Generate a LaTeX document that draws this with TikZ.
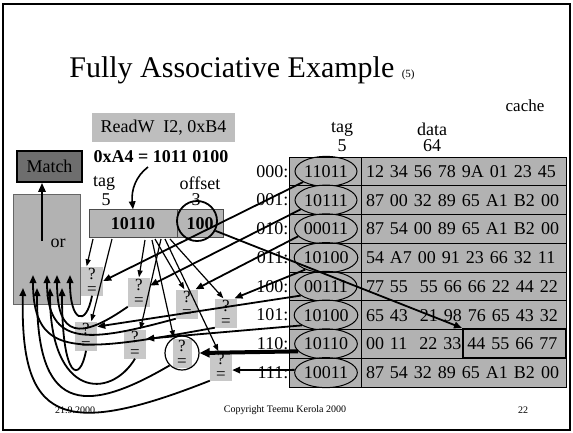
\documentclass[tikz,border=0pt]{standalone}
\usepackage{fontspec}
\setmainfont{Liberation Serif}
\usetikzlibrary{arrows.meta,shapes.geometric}
\newcommand\fsz[1]{\fontsize{#1}{#1}\selectfont}
\newcommand\qeq{?\\[-2pt]=}
\definecolor{tabgray}{RGB}{178,178,178}
\definecolor{cmpgray}{RGB}{200,200,200}
\definecolor{boxgray}{RGB}{182,182,182}
\definecolor{readgray}{RGB}{190,190,190}
\definecolor{matchgray}{RGB}{110,110,110}
\begin{document}
\begin{tikzpicture}[x=1pt,y=-1pt,
  txt/.style={font=\fsz{18}, inner sep=0pt},
  cmp/.style={fill=cmpgray, minimum width=22pt, minimum height=29pt, inner sep=0pt, font=\fsz{17}, align=center},
  tagel/.style={ellipse, draw, line width=1pt, minimum width=62pt, minimum height=30pt, inner sep=0pt, font=\fsz{18}},
  tcell/.style={draw, line width=0.8pt, fill=tabgray, minimum width=72pt, minimum height=28.75pt, inner sep=0pt},
  dcell/.style={draw, line width=0.8pt, fill=tabgray, text width=195pt, inner xsep=5pt, inner ysep=0pt, minimum height=28.75pt, align=left, font=\fsz{18}},
  conn/.style={line width=1.8pt, -{Triangle[length=8pt,width=6.5pt]}},
  thinarr/.style={line width=1.2pt, -{Triangle[length=7pt,width=5pt]}},
  ]
\useasboundingbox (0,0) rectangle (573,432);
\draw[line width=2pt] (3,4) rectangle (570,430);

% title
\node[inner sep=0pt] (title) at (242,70) {\fsz{30}Fully Associative Example \fsz{11}(5)};
\node[inner sep=0pt, font=\fsz{17}] (cache) at (525,106) {cache};

% cache table
\newcommand\cacherow[4]{%
  \pgfmathsetmacro\yc{171.375+28.75*#1}
  \node[tcell] (tc#1) at (325,\yc) {};
  \node[dcell] (dc#1) at (463.5,\yc) {#4};
  \node[tagel] (e#1) at (326,\yc) {#3};
  \node[txt, anchor=east] (l#1) at (288.5,\yc) {#2:};
}
\cacherow{0}{000}{11011}{12 34 56 78 9A 01 23 45}
\cacherow{1}{001}{10111}{87 00 32 89 65 A1 B2 00}
\cacherow{2}{010}{00011}{87 54 00 89 65 A1 B2 00}
\cacherow{3}{011}{10100}{54 A7 00 91 23 66 32 11}
\cacherow{4}{100}{00111}{77 55 \ 55 66 66 22 44 22}
\cacherow{5}{101}{10100}{65 43 \ 21 98 76 65 43 32}
\cacherow{6}{110}{10110}{00 11 \ 22 33 44 55 66 77}
\cacherow{7}{111}{10011}{87 54 32 89 65 A1 B2 00}
\node[draw, line width=2pt, minimum width=103pt, minimum height=29pt, inner sep=0pt] (hit) at (514.5,343.5) {};

\node[txt] (htag) at (342,129) {tag};
\node[txt] (h5) at (342,146) {5};
\node[txt] (hdata) at (432,129) {data};
\node[txt] (h64) at (432,146) {64};

% instruction and address
\node[fill=readgray, minimum width=143pt, minimum height=29pt, inner sep=0pt, font=\fsz{18}] (read) at (163.5,127.5) {ReadW \ I2, 0xB4};
\node[txt, font=\fsz{18}\bfseries] (hex) at (161,157) {0xA4 = 1011 0100};
\node[txt] (ltag) at (104,183) {tag};
\node[txt] (l5) at (106,200) {5};
\node[txt] (loff) at (200,183) {offset};
\node[txt] (l3) at (196,200) {3};
\node[draw=black!70, line width=0.8pt, fill=boxgray, minimum width=88pt, minimum height=27.5pt, inner sep=0pt, font=\fsz{18}\bfseries] (tagf) at (133,223.5) {10110};
\node[draw=black!70, line width=0.8pt, fill=boxgray, minimum width=46pt, minimum height=27.5pt, inner sep=0pt, font=\fsz{18}\bfseries] (offf) at (200,223.5) {100};
\node[circle, draw, line width=1.8pt, minimum size=40pt, inner sep=0pt] (offring) at (197,221) {};
\coordinate (harr) at (148,167);
\draw[conn, line width=1.6pt] (harr) .. controls (136,176) and (131,190) .. (tagf.north);

% match and or
\node[draw, line width=1.5pt, fill=matchgray, minimum width=65pt, minimum height=31pt, inner sep=0pt, font=\fsz{18}] (match) at (49.5,166.5) {Match};
\node[draw=black!60, line width=0.8pt, fill=tabgray, minimum width=67pt, minimum height=110pt, inner sep=0pt] (orb) at (46.5,249) {};
\node[txt] (ortxt) at (58,243) {or};
\coordinate (orstart) at (42,241);
\draw[line width=2.5pt, -{Triangle[length=9pt,width=7pt]}] (orstart) -- (orstart |- match.south);

% comparators
\node[cmp] (c0) at (92,281) {\qeq};
\node[cmp] (c1) at (139,292) {\qeq};
\node[cmp] (c2) at (187,304) {\qeq};
\node[cmp] (c3) at (226,313) {\qeq};
\node[cmp] (c4) at (86,336) {\qeq};
\node[cmp] (c5) at (135,344) {\qeq};
\node[cmp, minimum width=19pt] (c6) at (182,353) {\qeq};
\node[circle, draw, line width=1.2pt, minimum size=34pt, inner sep=0pt] (c6o) at (182,353) {};
\node[cmp] (c7) at (221,366) {\qeq};

% tag compare lines
\draw[conn] (e0.205) -- (c0.east);
\draw[conn] (e1.200) -- (c1.30);
\draw[conn] (e2.195) -- (c2.60);
\draw[conn] (e3.210) -- (c3.60);
\draw[conn] (e4.200) -- (c4.40);
\draw[conn] (e5.203) -- (c5.25);
\draw[line width=4pt, -{Triangle[length=10pt,width=9pt]}] (e6.195) -- (c6o.east);
\draw[conn] (e7.175) -- (c7.-20);

% offset to data
\draw[conn] (offring.-28) -- (hit.north west);

% tag field broadcast
\coordinate (s0) at (93,239);
\coordinate (s1) at (112,239);
\coordinate (s2) at (145,240);
\coordinate (s3) at (152,240);
\coordinate (s4) at (155,239);
\coordinate (s5) at (161,239);
\coordinate (s6) at (165,239);
\coordinate (s7) at (170,239);
\draw[thinarr] (s0) -- (c0.110);
\draw[thinarr] (s1) -- (c4.70);
\draw[thinarr] (s2) -- (c1.north);
\draw[thinarr] (s3) -- (c6o.118);
\draw[thinarr] (s4) -- (c2.100);
\draw[thinarr] (s5) -- (c5.70);
\draw[thinarr] (s6) -- (c7.100);
\draw[thinarr] (s7) -- (c3.100);

% results to or
\coordinate (oa) at (33,275);
\coordinate (ob) at (47,275);
\coordinate (oc) at (57,275);
\coordinate (od) at (70,275);
\coordinate (oe) at (23,288);
\coordinate (of) at (37,288);
\coordinate (og) at (50,288);
\coordinate (oh) at (62,288);
\draw[conn] (c0.south) .. controls (86,328) and (70,322) .. (od);
\draw[conn] (c4.south) .. controls (80,384) and (62,380) .. (oh);
\draw[conn] (c1.south west) .. controls (80,340) and (57,338) .. (oc);
\draw[conn] (c5.south) .. controls (110,400) and (50,398) .. (og);
\draw[conn] (c2.south west) .. controls (90,342) and (47,348) .. (ob);
\draw[conn] (c6o.south west) .. controls (80,418) and (37,408) .. (of);
\draw[conn] (c3.south west) .. controls (80,352) and (33,360) .. (oa);
\draw[conn] (c7.south west) .. controls (60,440) and (20,420) .. (oe);

% footer
\node[inner sep=0pt, font=\fsz{10}] (date) at (75,410) {21.9.2000};
\node[inner sep=0pt, font=\fsz{10}] (copy) at (285,410) {Copyright Teemu Kerola 2000};
\node[inner sep=0pt, font=\fsz{10}] (page) at (523,410) {22};
\end{tikzpicture}
\end{document}
